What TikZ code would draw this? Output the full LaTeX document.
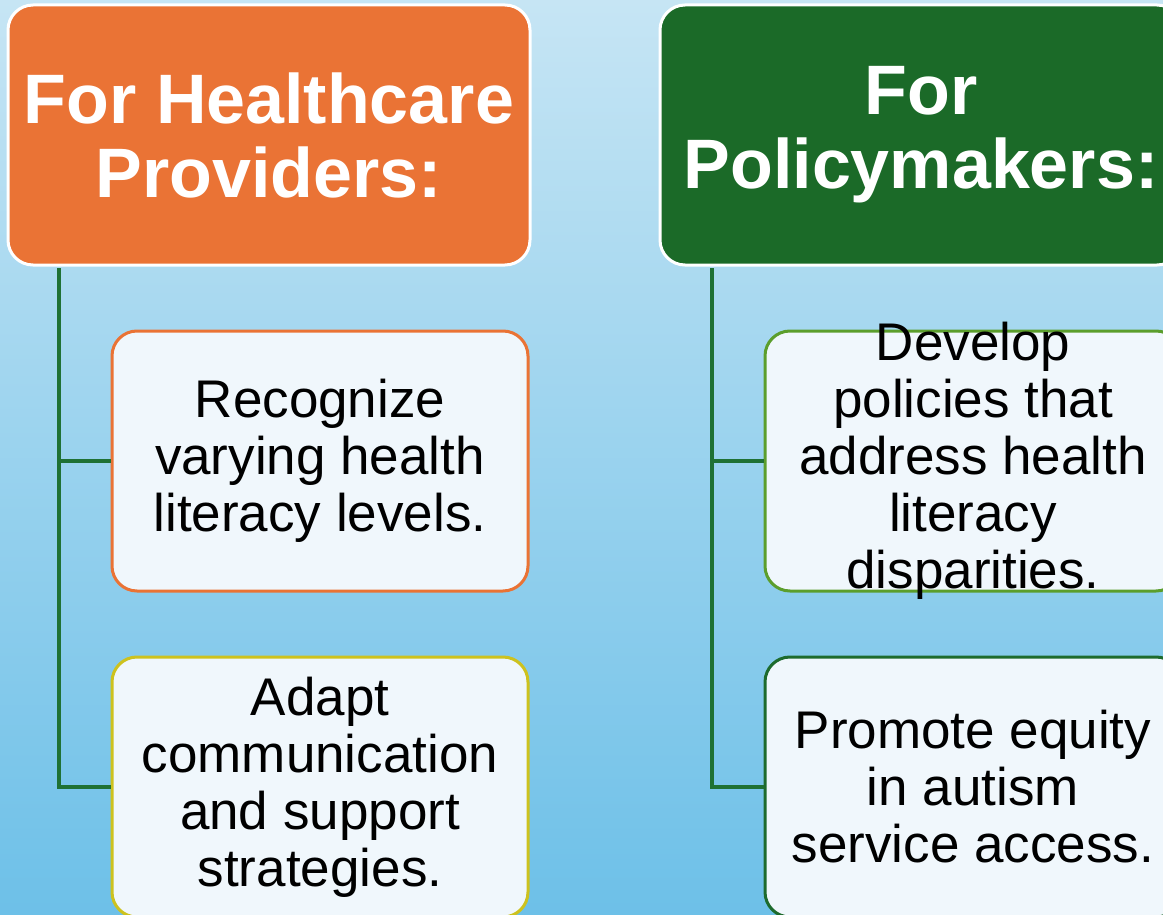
\documentclass[tikz,border=0pt]{standalone}
\usepackage{fontspec}
\setmainfont{Liberation Sans}
\usepackage{tikz}

\definecolor{hporange}{HTML}{EA7335}
\definecolor{pmgreen}{HTML}{1B6A28}
\definecolor{linkgreen}{HTML}{1F7134}
\definecolor{cardfill}{HTML}{F0F7FC}
\definecolor{cardyellow}{HTML}{CDC21E}
\definecolor{cardlime}{HTML}{5B9E2C}
\definecolor{cardpine}{HTML}{1D6B2D}
\definecolor{skytop}{HTML}{C6E5F4}
\definecolor{skybottom}{HTML}{6DC0E8}

\begin{document}
\begin{tikzpicture}[x = 0.5pt, y = -0.5pt,
    header/.style = {draw = white, line width = 1.5pt, rounded corners = 12.5pt,
        minimum width = 261pt, minimum height = 130pt, align = center,
        text = white, font = \fontsize{35}{37}\selectfont\bfseries},
    card/.style = {draw = #1, fill = cardfill, line width = 1.5pt, rounded corners = 12.5pt,
        minimum width = 208pt, minimum height = 130pt, align = center,
        font = \fontsize{26.5}{28.5}\selectfont},
    link/.style = {draw = linkgreen, line width = 2pt}]

    \useasboundingbox (0,0) rectangle (1163,915);
    \clip (0,0) rectangle (1163,915);
    \fill[top color = skytop, bottom color = skybottom] (0,0) rectangle (1163,915);

    \node[header, fill = hporange] (hp) at (269,135) {For Healthcare\\Providers:};
    \node[header, fill = pmgreen]  (pm) at (921,135) {For\\Policymakers:};

    \node[card = hporange]   (recognize) at (320,461) {Recognize\\varying health\\literacy levels.};
    \node[card = cardyellow] (adapt)     at (320,787) {Adapt\\communication\\and support\\strategies.};
    % the text runs over the top and bottom of this card
    \node[card = cardlime, inner ysep = -12pt] (develop) at (973,461) {Develop\\policies that\\address health\\literacy\\disparities.};
    \node[card = cardpine]   (promote)   at (973,787) {Promote equity\\in autism\\service access.};

    \coordinate (hptrunk) at ([xshift = 26pt, yshift = -0.75pt]hp.south west);
    \coordinate (pmtrunk) at ([xshift = 26.5pt, yshift = -0.75pt]pm.south west);

    \draw[link] (hptrunk) |- (recognize.west);
    \draw[link] (hptrunk) |- (adapt.west);
    \draw[link] (pmtrunk) |- (develop.west);
    \draw[link] (pmtrunk) |- (promote.west);
\end{tikzpicture}
\end{document}
